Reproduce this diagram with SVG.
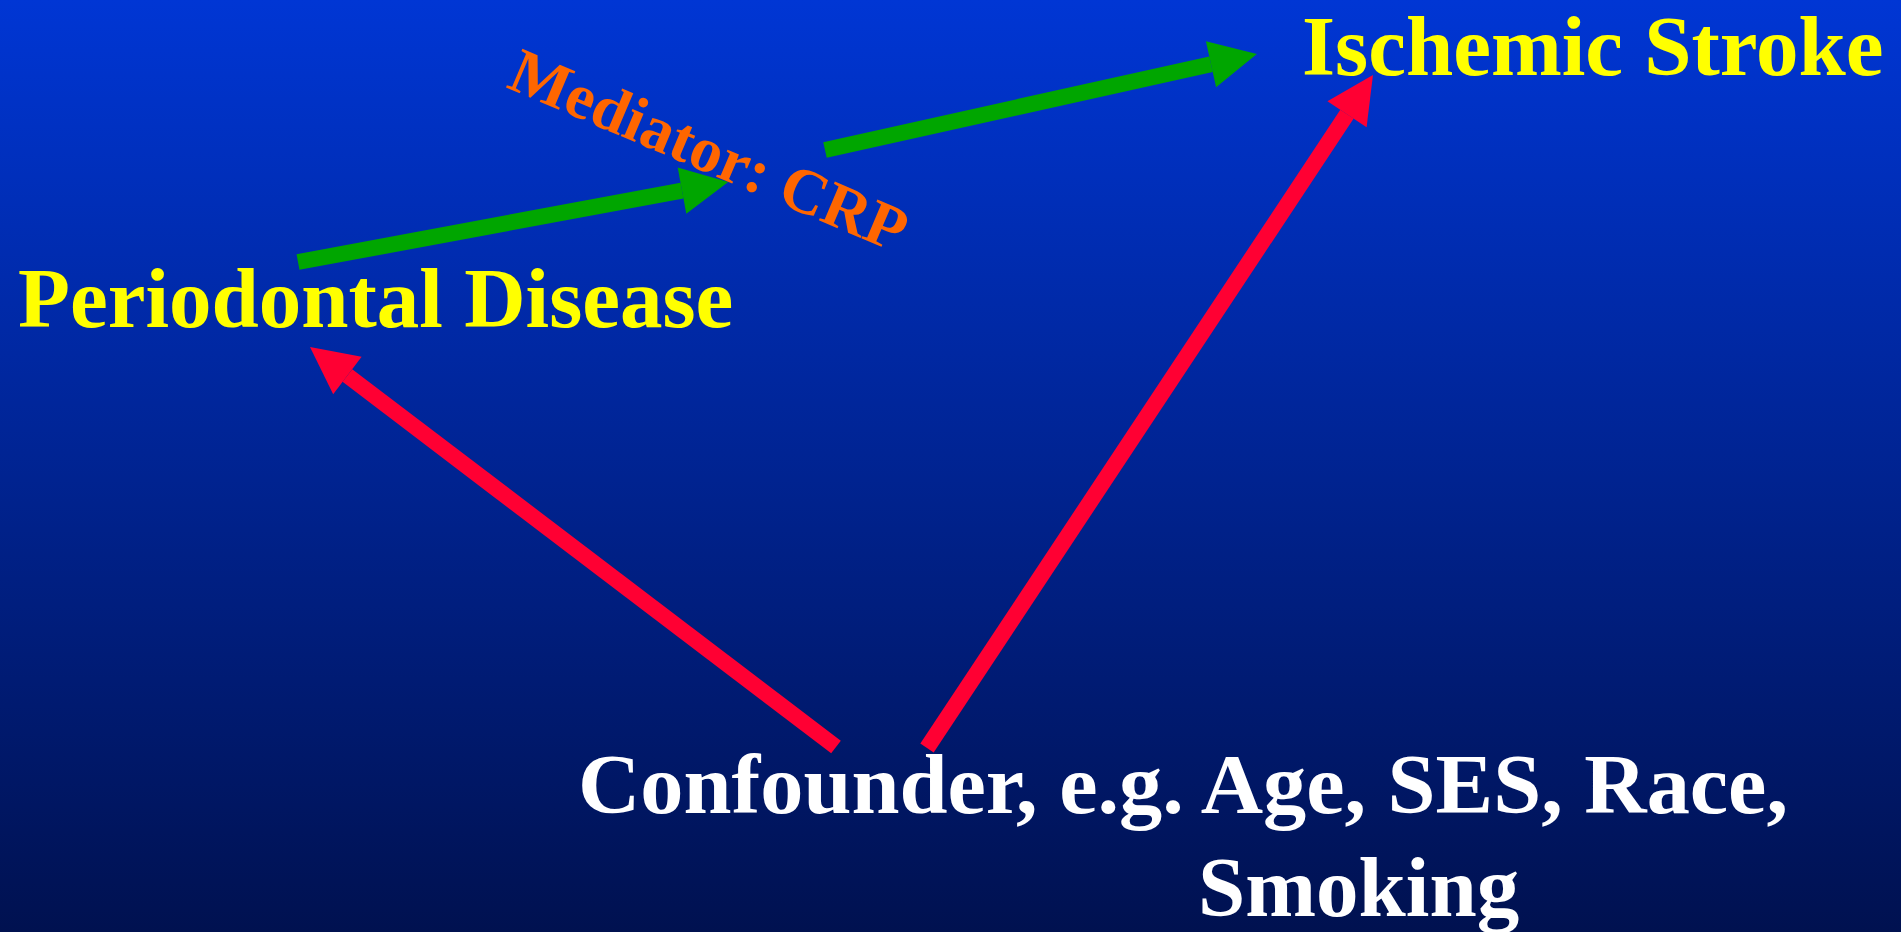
<svg xmlns="http://www.w3.org/2000/svg" width="1901" height="932" viewBox="0 0 1901 932">
  <style>
    .lbl { font-family: "Liberation Serif", "Times New Roman", serif; font-weight: bold; font-size: 85px; }
    .yellow { fill: #FFFF00; }
    .white { fill: #FFFFFF; }
    .med { fill: #FF6600; font-size: 64px; }
    .g { stroke: #00A600; stroke-width: 16; fill: none; }
    .r { stroke: #FF0033; stroke-width: 16; fill: none; }
  </style>
  <defs>
    <linearGradient id="bg" x1="0" y1="0" x2="0" y2="1">
      <stop offset="0" stop-color="#0036D4"/>
      <stop offset="1" stop-color="#001150"/>
    </linearGradient>
    <marker id="headG" markerUnits="userSpaceOnUse" orient="auto" refX="0" refY="0" markerWidth="60" markerHeight="60" viewBox="-2 -30 60 60" overflow="visible">
      <path d="M0,-23.5 L47,0 L0,23.5 Z" fill="#00A600"/>
    </marker>
    <marker id="headR" markerUnits="userSpaceOnUse" orient="auto" refX="0" refY="0" markerWidth="60" markerHeight="60" viewBox="-2 -30 60 60" overflow="visible">
      <path d="M0,-23.5 L47,0 L0,23.5 Z" fill="#FF0033"/>
    </marker>
  </defs>
  <rect x="0" y="0" width="1901" height="932" fill="url(#bg)"/>

  <g id="connectors">
    <line class="g" x1="298" y1="262" x2="682" y2="190.6" marker-end="url(#headG)"/>
    <line class="g" x1="825" y1="150" x2="1211" y2="64.2" marker-end="url(#headG)"/>
    <line class="r" x1="836" y1="747" x2="347.4" y2="375.5" marker-end="url(#headR)"/>
    <line class="r" x1="927" y1="748" x2="1347" y2="114.2" marker-end="url(#headR)"/>
  </g>

  <g id="node-stroke">
    <text class="lbl yellow" x="1302" y="75">Ischemic Stroke</text>
  </g>
  <g id="node-periodontal">
    <text class="lbl yellow" x="18" y="327">Periodontal Disease</text>
  </g>
  <g id="node-mediator">
    <text class="lbl med" x="505" y="87" transform="rotate(23 505 87)">Mediator: CRP</text>
  </g>
  <g id="node-confounder">
    <text class="lbl white" x="578" y="813" textLength="1210" lengthAdjust="spacingAndGlyphs">Confounder, e.g. Age, SES, Race,</text>
    <text class="lbl white" x="1198" y="916">Smoking</text>
  </g>
</svg>
